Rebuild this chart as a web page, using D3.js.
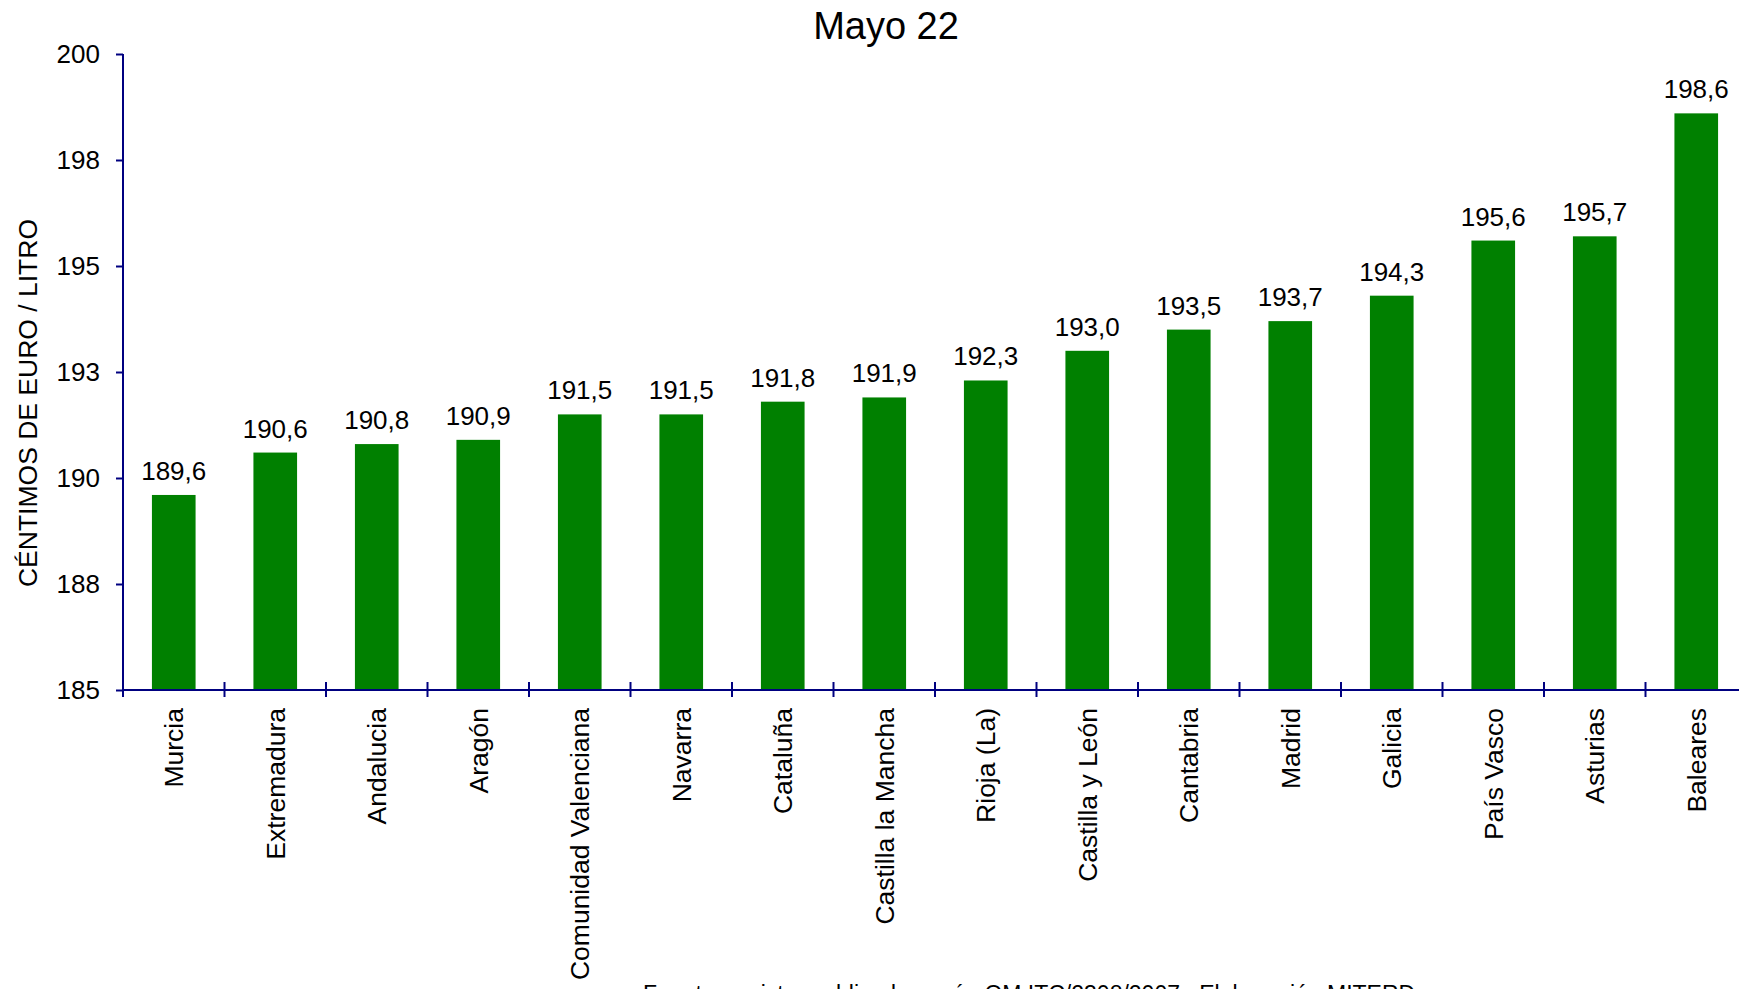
<!DOCTYPE html>
<html>
<head>
<meta charset="utf-8">
<script src="https://cdn.jsdelivr.net/npm/d3@7"></script>
<style>
  body { margin: 0; background: #fff; }
  text { font-family: "Liberation Sans", Arial, sans-serif; fill: #000; }
</style>
</head>
<body>
<svg id="chart" width="1739" height="989"></svg>
<script>
// data
var regions = ["Murcia", "Extremadura", "Andalucia", "Aragón", "Comunidad Valenciana", "Navarra",
  "Cataluña", "Castilla la Mancha", "Rioja (La)", "Castilla y León", "Cantabria", "Madrid",
  "Galicia", "País Vasco", "Asturias", "Baleares"];
var prices = [189.6, 190.6, 190.8, 190.9, 191.5, 191.5, 191.8, 191.9, 192.3, 193.0, 193.5, 193.7,
  194.3, 195.6, 195.7, 198.6];
var yTicks = [185, 187.5, 190, 192.5, 195, 197.5, 200];
var yTickLabels = ["185", "188", "190", "193", "195", "198", "200"];

var titleText = "Mayo 22";
var yTitle = "CÉNTIMOS DE EURO / LITRO";
var footer = "Fuente: registro publicado según OM ITC/2308/2007  .  Elaboración MITERD";

var data = regions.map(function (r, i) { return { name: r, value: prices[i] }; });

var svg = d3.select("#chart");
var plotLeft = 123, plotBottom = 690, plotTop = 54;
var band = 101.5;
var axisColor = "#000080";

var x = d3.scaleBand()
  .domain(regions)
  .range([plotLeft, plotLeft + band * regions.length])
  .paddingInner(0.57)
  .paddingOuter(0.285);

var y = d3.scaleLinear()
  .domain([185, 200])
  .range([plotBottom, plotTop]);

var fmt = d3.format(".1f");

// bars
svg.selectAll("rect.bar")
  .data(data)
  .enter().append("rect")
  .attr("class", "bar")
  .attr("x", function (d) { return x(d.name); })
  .attr("width", x.bandwidth())
  .attr("y", function (d) { return y(d.value); })
  .attr("height", function (d) { return plotBottom - y(d.value); })
  .attr("fill", "#008000");

// value labels
svg.selectAll("text.val")
  .data(data)
  .enter().append("text")
  .attr("class", "val")
  .attr("x", function (d) { return x(d.name) + x.bandwidth() / 2; })
  .attr("y", function (d) { return y(d.value) - 15; })
  .attr("text-anchor", "middle")
  .style("font-size", "26px")
  .text(function (d) { return fmt(d.value).replace(".", ","); });

// y axis
var yAxis = svg.append("g")
  .attr("transform", "translate(" + plotLeft + ",0)")
  .call(d3.axisLeft(y).tickValues(yTicks).tickSize(7).tickPadding(16)
    .tickFormat(function (d, i) { return yTickLabels[i]; }));
yAxis.select(".domain").remove();
yAxis.selectAll(".tick line").attr("stroke", axisColor).attr("stroke-width", 2);
yAxis.selectAll(".tick text")
  .style("font-size", "26px")
  .style("font-family", "'Liberation Sans', Arial, sans-serif")
  .attr("fill", "#000");
yAxis.append("line")
  .attr("x1", 0).attr("x2", 0)
  .attr("y1", plotTop).attr("y2", plotBottom + 7)
  .attr("stroke", axisColor).attr("stroke-width", 2);

// x axis: line plus ticks at band edges
var xAxis = svg.append("g");
xAxis.append("line")
  .attr("x1", plotLeft).attr("x2", plotLeft + band * regions.length)
  .attr("y1", plotBottom).attr("y2", plotBottom)
  .attr("stroke", axisColor).attr("stroke-width", 2);
xAxis.selectAll("line.tk")
  .data(regions.slice(1))
  .enter().append("line")
  .attr("class", "tk")
  .attr("x1", function (d) { return x(d) - x.step() * x.paddingInner() / 2; })
  .attr("x2", function (d) { return x(d) - x.step() * x.paddingInner() / 2; })
  .attr("y1", plotBottom - 8).attr("y2", plotBottom + 7)
  .attr("stroke", axisColor).attr("stroke-width", 2);

// category labels
svg.selectAll("text.cat")
  .data(regions)
  .enter().append("text")
  .attr("class", "cat")
  .attr("transform", function (d) {
    return "translate(" + (x(d) + x.bandwidth() / 2) + "," + (plotBottom + 18) + ") rotate(-90)";
  })
  .attr("text-anchor", "end")
  .attr("dy", "0.35em")
  .style("font-size", "26.5px")
  .text(function (d) { return d; });

// title
svg.append("text")
  .attr("x", 886)
  .attr("y", 39)
  .attr("text-anchor", "middle")
  .style("font-size", "38px")
  .text(titleText);

// y title
svg.append("text")
  .attr("transform", "translate(37,403) rotate(-90)")
  .attr("text-anchor", "middle")
  .style("font-size", "26.5px")
  .text(yTitle);

// source line (cut off at the bottom, as in the original)
svg.append("text")
  .attr("x", 643)
  .attr("y", 1002)
  .style("font-size", "23px")
  .text(footer);
</script>
</body>
</html>
